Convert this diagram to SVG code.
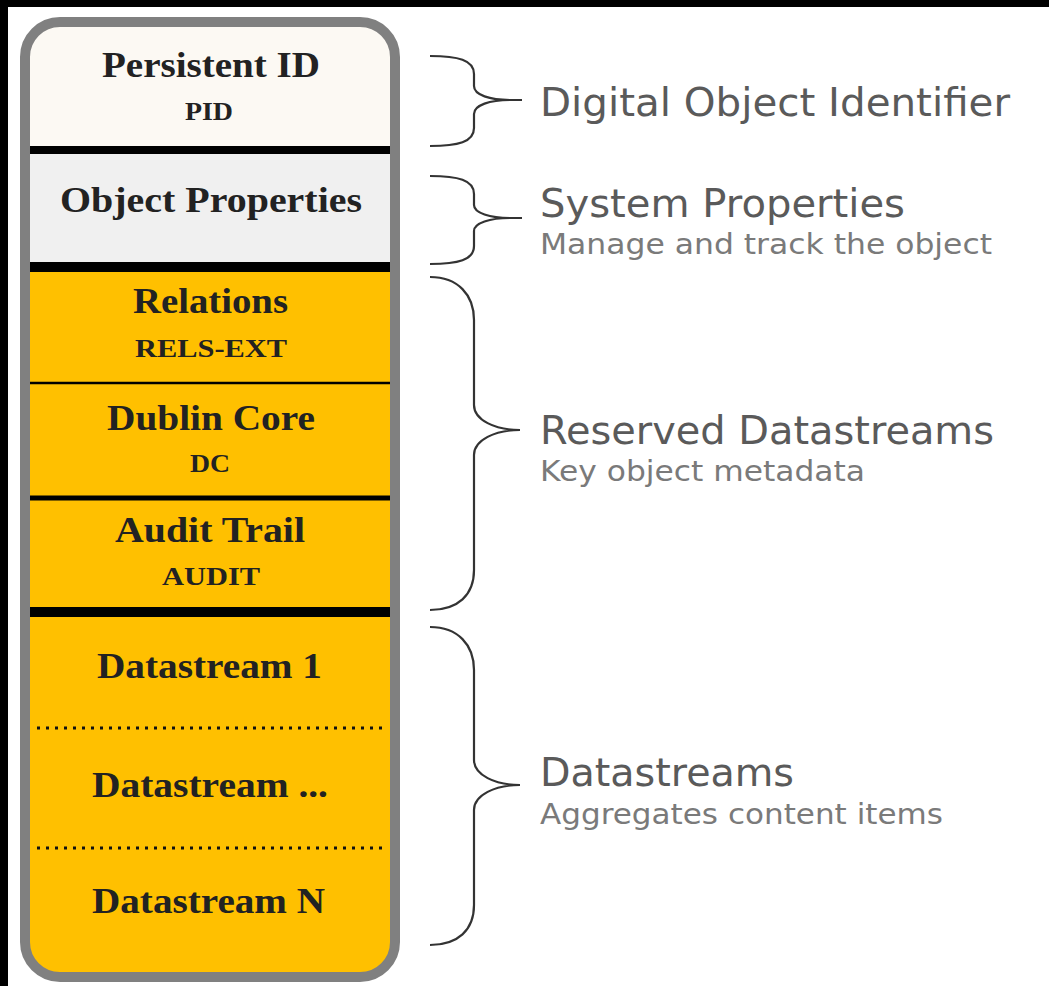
<svg xmlns="http://www.w3.org/2000/svg" width="1049" height="986" viewBox="0 0 1049 986">
  <style>
    .lbl{font-family:"Liberation Serif","Times New Roman",serif;font-weight:bold;fill:#222;text-anchor:start}
    .big{font-size:35px}
    .small{font-size:26px}
    .title{font-family:"DejaVu Sans",Verdana,sans-serif;font-size:39px;fill:#5a5a5a}
    .sub{font-family:"DejaVu Sans",Verdana,sans-serif;font-size:29px;fill:#7a7a7a}
    .brace{fill:none;stroke:#333;stroke-width:2.2}
    .div{stroke:#000}
    .dot{stroke:#111;stroke-width:3;stroke-dasharray:3 6}
  </style>
  <defs>
    <clipPath id="inner">
      <rect x="25" y="22" width="370" height="955" rx="35" ry="35"/>
    </clipPath>
  </defs>
  <rect x="0" y="0" width="1049" height="986" fill="#fff"/>
  <rect x="0" y="0" width="1049" height="7" fill="#000"/>
  <rect x="0" y="0" width="8" height="986" fill="#000"/>

  <g clip-path="url(#inner)">
    <g id="node-pid">
      <rect x="20" y="17" width="380" height="131" fill="#fcf9f3"/>
      <text class="lbl big" x="102" y="77" textLength="218" lengthAdjust="spacingAndGlyphs">Persistent ID</text>
      <text class="lbl small" x="185" y="120" textLength="48" lengthAdjust="spacingAndGlyphs">PID</text>
    </g>
    <g id="node-object-properties">
      <rect x="20" y="148" width="380" height="118" fill="#f0f0f0"/>
      <text class="lbl big" x="60" y="212" textLength="302" lengthAdjust="spacingAndGlyphs">Object Properties</text>
    </g>
    <g id="node-relations">
      <rect x="20" y="266" width="380" height="117" fill="#ffc000"/>
      <text class="lbl big" x="133" y="313" textLength="155" lengthAdjust="spacingAndGlyphs">Relations</text>
      <text class="lbl small" x="135" y="357" textLength="152" lengthAdjust="spacingAndGlyphs">RELS-EXT</text>
    </g>
    <g id="node-dublin-core">
      <rect x="20" y="383" width="380" height="115" fill="#ffc000"/>
      <text class="lbl big" x="107" y="430" textLength="208" lengthAdjust="spacingAndGlyphs">Dublin Core</text>
      <text class="lbl small" x="190" y="472" textLength="40" lengthAdjust="spacingAndGlyphs">DC</text>
    </g>
    <g id="node-audit-trail">
      <rect x="20" y="498" width="380" height="114" fill="#ffc000"/>
      <text class="lbl big" x="115" y="542" textLength="190" lengthAdjust="spacingAndGlyphs">Audit Trail</text>
      <text class="lbl small" x="162" y="585" textLength="98" lengthAdjust="spacingAndGlyphs">AUDIT</text>
    </g>
    <g id="node-datastream-1">
      <rect x="20" y="612" width="380" height="116" fill="#ffc000"/>
      <text class="lbl big" x="97" y="678" textLength="225" lengthAdjust="spacingAndGlyphs">Datastream 1</text>
    </g>
    <g id="node-datastream-dots">
      <rect x="20" y="728" width="380" height="120" fill="#ffc000"/>
      <text class="lbl big" x="92" y="797" textLength="236" lengthAdjust="spacingAndGlyphs">Datastream ...</text>
    </g>
    <g id="node-datastream-n">
      <rect x="20" y="848" width="380" height="135" fill="#ffc000"/>
      <text class="lbl big" x="92" y="913" textLength="233" lengthAdjust="spacingAndGlyphs">Datastream N</text>
    </g>
    <g id="dividers">
      <line class="div" x1="30" y1="150" x2="392" y2="150" stroke-width="8"/>
      <line class="div" x1="30" y1="267" x2="392" y2="267" stroke-width="10"/>
      <line class="div" x1="30" y1="383" x2="392" y2="383" stroke-width="2.5"/>
      <line class="div" x1="30" y1="498" x2="392" y2="498" stroke-width="5"/>
      <line class="div" x1="30" y1="612" x2="392" y2="612" stroke-width="10"/>
      <line class="dot" x1="37" y1="728" x2="387" y2="728"/>
      <line class="dot" x1="37" y1="848" x2="387" y2="848"/>
    </g>
  </g>
  <rect id="container" x="25" y="22" width="370" height="955" rx="35" ry="35" fill="none" stroke="#808080" stroke-width="10"/>

  <g id="connectors">
    <path class="brace" d="M430,56 C458,56 474,60 474,74 L474,86 C474,95 490,100 510,100 L522,100 M510,100 C490,100 474,105 474,114 L474,128 C474,142 458,146 430,146"/>
    <path class="brace" d="M430,176 C458,176 474,180 474,194 L474,205 C474,213 490,218 510,218 L522,218 M510,218 C490,218 474,223 474,231 L474,246 C474,260 458,264 430,264"/>
    <path class="brace" d="M430,277 C458,277 474,295 474,320 L474,405 C474,420 495,430 520,430 C495,430 474,440 474,455 L474,570 C474,595 458,610 430,610"/>
    <path class="brace" d="M430,627 C458,627 474,645 474,670 L474,760 C474,775 495,785 520,785 C495,785 474,795 474,810 L474,905 C474,930 458,945 430,945"/>
  </g>

  <g id="label-digital-object-identifier">
    <text class="title" x="540" y="116" textLength="470" lengthAdjust="spacingAndGlyphs">Digital Object Identifier</text>
  </g>
  <g id="label-system-properties">
    <text class="title" x="540" y="217" textLength="365" lengthAdjust="spacingAndGlyphs">System Properties</text>
    <text class="sub" x="540" y="254" textLength="452" lengthAdjust="spacingAndGlyphs">Manage and track the object</text>
  </g>
  <g id="label-reserved-datastreams">
    <text class="title" x="540" y="444" textLength="454" lengthAdjust="spacingAndGlyphs">Reserved Datastreams</text>
    <text class="sub" x="540" y="481" textLength="325" lengthAdjust="spacingAndGlyphs">Key object metadata</text>
  </g>
  <g id="label-datastreams">
    <text class="title" x="540" y="786" textLength="254" lengthAdjust="spacingAndGlyphs">Datastreams</text>
    <text class="sub" x="540" y="824" textLength="403" lengthAdjust="spacingAndGlyphs">Aggregates content items</text>
  </g>
</svg>
